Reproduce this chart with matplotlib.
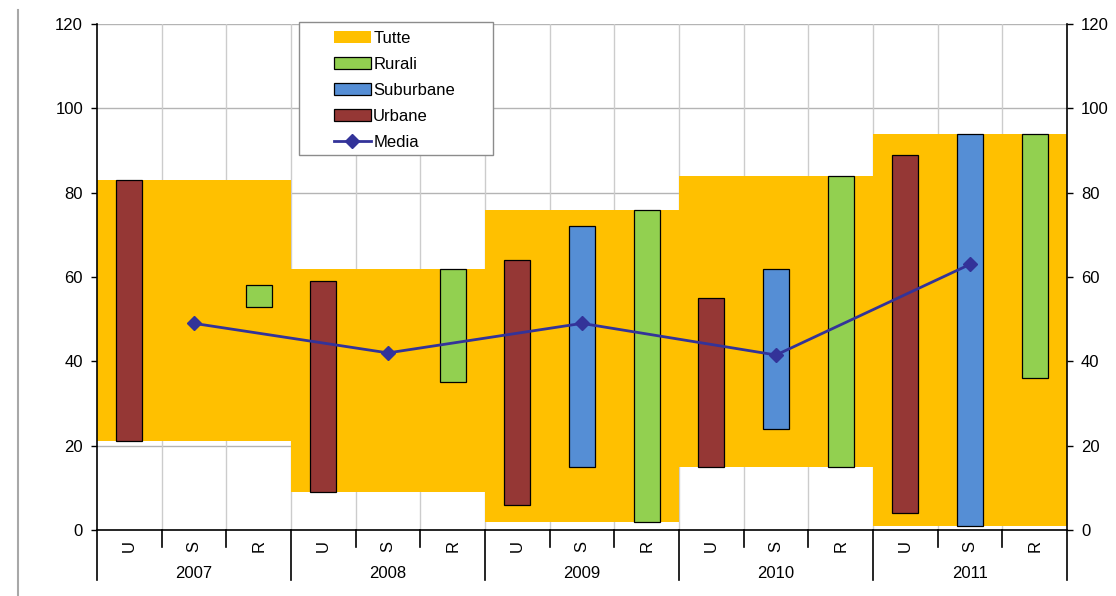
import matplotlib
matplotlib.use('Agg')
import matplotlib.pyplot as plt
import numpy as np
from matplotlib.patches import Patch, Rectangle
from matplotlib.lines import Line2D
import matplotlib.transforms as mtransforms

plt.rcParams['font.family'] = ['Liberation Sans', 'DejaVu Sans']
plt.rcParams['font.size'] = 12

# ---- data ----
years = ['2007', '2008', '2009', '2010', '2011']
types = ['U', 'S', 'R']
tutte_low = [21, 9, 2, 15, 1]
tutte_high = [83, 62, 76, 84, 94]
urb_low = [21, 9, 6, 15, 4]
urb_high = [83, 59, 64, 55, 89]
sub_low = [np.nan, np.nan, 15, 24, 1]
sub_high = [np.nan, np.nan, 72, 62, 94]
rur_low = [53, 35, 2, 15, 36]
rur_high = [58, 62, 76, 84, 94]
media = [49, 42, 49, 41.5, 63]

C_TUTTE = '#FFC000'
C_URB = '#953735'
C_SUB = '#558ED5'
C_RUR = '#92D050'
C_MEDIA = '#333399'

fig = plt.figure(figsize=(11.16, 5.96), dpi=100)
ax = fig.add_axes([97 / 1116, 1 - 530 / 596, 970 / 1116, 506 / 596])

n = len(years)
year_idx = np.arange(n)
centers = year_idx * 3 + 1
xu = year_idx * 3
xs = year_idx * 3 + 1
xr = year_idx * 3 + 2

tl = np.array(tutte_low, float); th = np.array(tutte_high, float)
ul = np.array(urb_low, float); uh = np.array(urb_high, float)
sl = np.array(sub_low, float); sh = np.array(sub_high, float)
rl = np.array(rur_low, float); rh = np.array(rur_high, float)

ax.bar(centers, th - tl, bottom=tl, width=3, color=C_TUTTE, zorder=2, linewidth=0)
bw = 0.4
ax.bar(xu, uh - ul, bottom=ul, width=bw, color=C_URB, edgecolor='black', linewidth=0.9, zorder=3)
ax.bar(xs, sh - sl, bottom=sl, width=bw, color=C_SUB, edgecolor='black', linewidth=0.9, zorder=3)
ax.bar(xr, rh - rl, bottom=rl, width=bw, color=C_RUR, edgecolor='black', linewidth=0.9, zorder=3)
ax.plot(xs, media, color=C_MEDIA, lw=2, marker='D', markersize=7, zorder=4)

ax.set_xlim(-0.5, 3 * n - 0.5)
ax.set_ylim(0, 120)
ax.set_yticks(range(0, 121, 20))

# grid
for y in range(20, 121, 20):
    ax.axhline(y, color='#b4b4b4', lw=1.0, zorder=1)
for k in range(1, 3 * n):
    ax.axvline(k - 0.5, color='#cccccc', lw=1.0, zorder=1)

ax.spines['top'].set_visible(False)
ax.spines['right'].set_visible(False)
ax.spines['left'].set_linewidth(1.2)
ax.spines['bottom'].set_linewidth(1.2)
ax.tick_params(axis='y', direction='out', length=4, width=1, pad=6, labelsize=12)
ax.set_xticks([])

ax2 = ax.twinx()
ax2.set_ylim(0, 120)
ax2.set_yticks(range(0, 121, 20))
ax2.tick_params(axis='y', direction='out', length=4, width=1, pad=6, labelsize=12)
ax2.spines['top'].set_visible(False)
ax2.spines['left'].set_visible(False)
ax2.spines['bottom'].set_visible(False)
ax2.spines['right'].set_linewidth(1.2)

# x-axis two-level labels
trans = mtransforms.blended_transform_factory(ax.transData, ax.transAxes)
short = 17 / 506
long_ = 50 / 506
for k in range(3 * n + 1):
    x = k - 0.5
    L = long_ if k % 3 == 0 else short
    ax.add_line(Line2D([x, x], [0, -L], transform=trans, color='black', lw=1.2, clip_on=False))
for i in range(n):
    for j, t in enumerate(types):
        ax.text(3 * i + j, -16 / 506, t, transform=trans, rotation=90,
                ha='center', va='center', fontsize=12)
    ax.text(centers[i], -43 / 506, years[i], transform=trans, ha='center', va='center', fontsize=12)

# legend
fig.patches.append(Rectangle((299 / 1116, 1 - 155 / 596), 194 / 1116, 133 / 596,
                             transform=fig.transFigure, facecolor='white',
                             edgecolor='#8c8c8c', lw=1.0, zorder=4))
handles = [Patch(facecolor=C_TUTTE, edgecolor='none'),
           Patch(facecolor=C_RUR, edgecolor='black', linewidth=0.9),
           Patch(facecolor=C_SUB, edgecolor='black', linewidth=0.9),
           Patch(facecolor=C_URB, edgecolor='black', linewidth=0.9),
           Line2D([], [], color=C_MEDIA, lw=2, marker='D', markersize=7)]
labels = ['Tutte', 'Rurali', 'Suburbane', 'Urbane', 'Media']
leg = fig.legend(handles, labels, loc='upper left',
                 bbox_to_anchor=(334 / 1116, 1 - 31 / 596), frameon=False,
                 handlelength=2.2, handletextpad=0.15, labelspacing=0.66,
                 borderpad=0, borderaxespad=0, fontsize=12)
leg.set_zorder(5)

# left border line
fig.add_artist(Line2D([18 / 1116, 18 / 1116], [0, 1 - 10 / 596], transform=fig.transFigure,
                      color='#a8a8a8', lw=1.5))

fig.savefig('out.png', dpi=100)
